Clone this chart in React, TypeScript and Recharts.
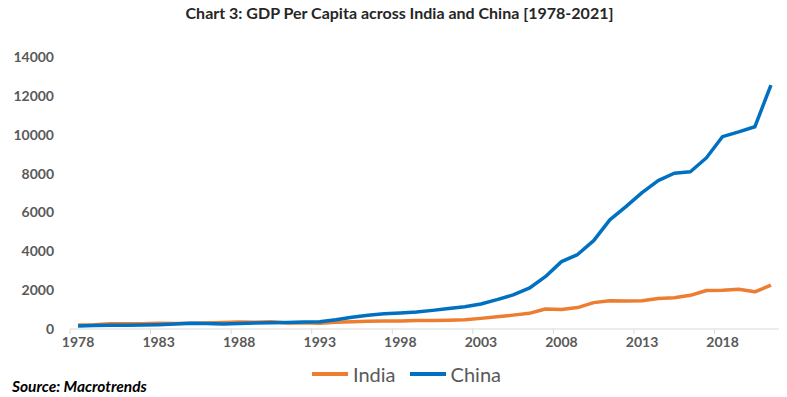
import { LineChart, Line, XAxis, YAxis } from "recharts";

const YEARS = [
  1978, 1979, 1980, 1981, 1982, 1983, 1984, 1985, 1986, 1987, 1988, 1989, 1990, 1991, 1992,
  1993, 1994, 1995, 1996, 1997, 1998, 1999, 2000, 2001, 2002, 2003, 2004, 2005, 2006, 2007,
  2008, 2009, 2010, 2011, 2012, 2013, 2014, 2015, 2016, 2017, 2018, 2019, 2020, 2021,
];

// GDP per capita, current US$
const INDIA = [
  206, 224, 267, 271, 275, 292, 277, 296, 311, 340, 355, 347, 368, 303, 317,
  302, 346, 374, 400, 415, 413, 442, 443, 452, 471, 547, 628, 714, 807, 1028,
  999, 1102, 1358, 1458, 1444, 1450, 1574, 1606, 1733, 1981, 1997, 2050, 1913, 2257,
];
const CHINA = [
  156, 184, 195, 197, 203, 225, 251, 294, 282, 252, 284, 311, 318, 333, 366,
  377, 473, 610, 709, 782, 829, 873, 959, 1053, 1149, 1289, 1509, 1753, 2099, 2694,
  3468, 3832, 4550, 5614, 6301, 7020, 7636, 8016, 8094, 8817, 9905, 10144, 10409, 12556,
];

const Y_TICKS = [0, 2000, 4000, 6000, 8000, 10000, 12000, 14000];
// category boundaries where Excel puts the tick marks; labels sit half a band to the right
const X_TICKS = [1977.5, 1982.5, 1987.5, 1992.5, 1997.5, 2002.5, 2007.5, 2012.5, 2017.5];

const W = 787;
const H = 397;
const MARGIN = { top: 57, right: 8, bottom: 38, left: 0 };
const Y_AXIS_W = 70;
const PLOT_W = W - MARGIN.left - MARGIN.right - Y_AXIS_W;
const HALF_BAND = PLOT_W / YEARS.length / 2;

const ORANGE = "#ED7D31";
const BLUE = "#0070C0";
const GREY = "#595959";
const FONT = "Lato, 'Open Sans', sans-serif";

const data = YEARS.map((y, i) => ({ year: y, india: INDIA[i], china: CHINA[i] }));

function YearTick(props: any) {
  const { x, y, payload } = props;
  return (
    <text
      x={x + HALF_BAND}
      y={y}
      dy="0.71em"
      textAnchor="middle"
      fill={GREY}
      fontSize={14}
      fontWeight={700}
      fontFamily={FONT}
    >
      {payload.value + 0.5}
    </text>
  );
}

export default function App() {
  return (
    <div style={{ position: "absolute", left: 0, top: 0, width: W, height: H, background: "#fff", fontFamily: FONT }}>
      <div
        style={{
          position: "absolute",
          top: 3,
          left: 6,
          width: W,
          textAlign: "center",
          fontSize: 16,
          fontWeight: 700,
          color: "#262626",
        }}
      >
        Chart 3: GDP Per Capita across India and China [1978-2021]
      </div>
      <LineChart width={W} height={H} data={data} margin={MARGIN}>
        <XAxis
          dataKey="year"
          type="number"
          domain={[1977.5, 2021.5]}
          ticks={X_TICKS}
          interval={0}
          tick={<YearTick />}
          tickSize={5}
          tickMargin={3}
          axisLine={{ stroke: "#D9D9D9" }}
          tickLine={{ stroke: "#D9D9D9" }}
          allowDataOverflow
        />
        <YAxis
          width={Y_AXIS_W}
          domain={[0, 14000]}
          ticks={Y_TICKS}
          interval={0}
          axisLine={false}
          tickLine={false}
          tickMargin={10}
          tick={{ fill: GREY, fontSize: 14, fontWeight: 700, fontFamily: FONT }}
        />
        <Line
          dataKey="india"
          stroke={ORANGE}
          strokeWidth={3.5}
          dot={false}
          isAnimationActive={false}
          strokeLinejoin="round"
        />
        <Line
          dataKey="china"
          stroke={BLUE}
          strokeWidth={3.5}
          dot={false}
          isAnimationActive={false}
          strokeLinejoin="round"
        />
      </LineChart>
      <div
        style={{
          position: "absolute",
          top: 362,
          left: 312,
          display: "flex",
          alignItems: "center",
          fontSize: 20,
          color: GREY,
          gap: 5,
        }}
      >
        <span style={{ display: "inline-block", width: 36, height: 4, background: ORANGE }} />
        <span>India</span>
        <span style={{ display: "inline-block", width: 36, height: 4, background: BLUE, marginLeft: 9 }} />
        <span>China</span>
      </div>
      <div
        style={{
          position: "absolute",
          top: 377,
          left: 12,
          fontSize: 15.5,
          fontWeight: 700,
          fontStyle: "italic",
          color: "#000",
        }}
      >
        Source: Macrotrends
      </div>
    </div>
  );
}
